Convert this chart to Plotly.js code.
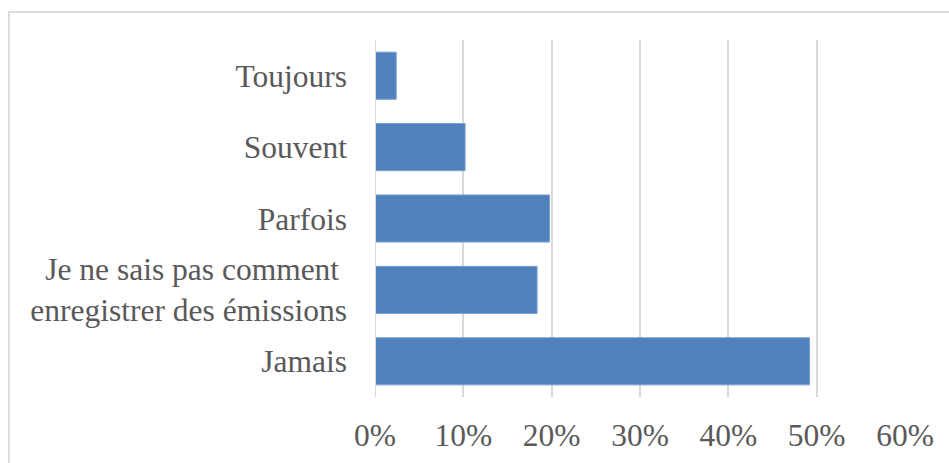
<!DOCTYPE html>
<html>
<head>
<meta charset="utf-8">
<script src="https://cdn.plot.ly/plotly-3.0.1.min.js"></script>
<style>
  html, body { margin: 0; padding: 0; background: #ffffff; overflow: hidden; }
  #frame { position: absolute; left: 8px; top: 11px; width: 1000px; height: 600px; border: 2px solid #dcdcdc; box-sizing: border-box; }
  #chart { position: absolute; left: 0; top: 0; width: 949px; height: 463px; }
</style>
</head>
<body>
<div id="frame"></div>
<div id="chart"></div>
<script>
const categories = ["Jamais", "Je ne sais pas comment\u00a0<br>enregistrer des émissions", "Parfois", "Souvent", "Toujours"];
const values = [0.492, 0.1835, 0.1975, 0.102, 0.024];
const tickValues = [0, 0.1, 0.2, 0.3, 0.4, 0.5, 0.6];
const tickLabels = ["0%", "10%", "20%", "30%", "40%", "50%", "60%"];

const trace = {
  type: "bar",
  orientation: "h",
  x: values,
  y: categories,
  marker: { color: "#4F81BD", line: { color: "#7A9FD0", width: 1 } },
  hoverinfo: "x+y"
};

const layout = {
  width: 949,
  height: 463,
  margin: { l: 375, r: 44, t: 40, b: 66 },
  paper_bgcolor: "rgba(0,0,0,0)",
  plot_bgcolor: "rgba(0,0,0,0)",
  bargap: 0.34,
  showlegend: false,
  font: { family: "Liberation Serif, Times New Roman, serif", color: "#595959", size: 31 },
  xaxis: {
    range: [0, 0.6],
    tickvals: tickValues,
    ticktext: tickLabels,
    showgrid: true,
    gridcolor: "#d9d9d9",
    gridwidth: 2,
    zeroline: false,
    showline: false,
    ticks: "",
    ticklabelstandoff: 16,
    tickfont: { size: 31.5, color: "#595959" },
    fixedrange: true
  },
  yaxis: {
    showgrid: false,
    zeroline: false,
    showline: false,
    ticks: "",
    ticklabelstandoff: 27,
    tickfont: { size: 31.5, color: "#595959" },
    fixedrange: true
  },
  shapes: [
    { type: "line", xref: "x", yref: "paper", x0: 0, x1: 0, y0: 0, y1: 1, line: { color: "#d9d9d9", width: 2 } }
  ]
};

Plotly.newPlot("chart", [trace], layout, { displayModeBar: false, staticPlot: true });
</script>
</body>
</html>
